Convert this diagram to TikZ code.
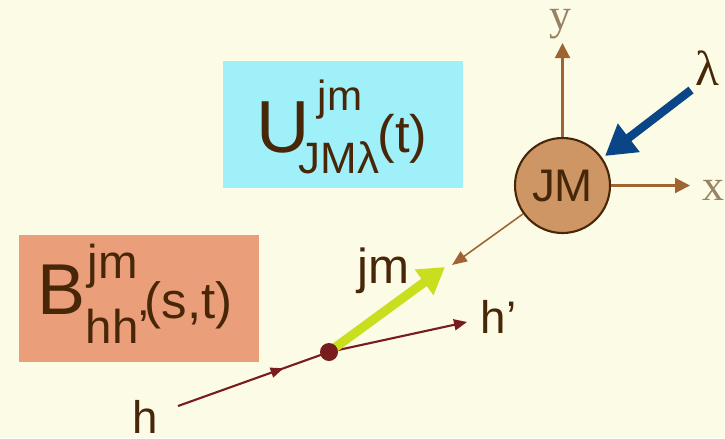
\documentclass[tikz,border=0pt]{standalone}
\usepackage{fontspec}
\setmainfont{Liberation Sans}
\newfontfamily\axisfont{Liberation Serif}
\usetikzlibrary{arrows.meta,decorations.markings}
\definecolor{bgcream}{RGB}{252,252,230}
\definecolor{boxcyan}{RGB}{160,240,250}
\definecolor{boxsalmon}{RGB}{235,158,122}
\definecolor{jmtan}{RGB}{206,150,100}
\definecolor{txtbrown}{RGB}{72,38,8}
\definecolor{axbrown}{RGB}{160,100,50}
\definecolor{lblgray}{RGB}{150,130,100}
\definecolor{lamblue}{RGB}{10,70,135}
\definecolor{glgreen}{RGB}{200,222,30}
\definecolor{hred}{RGB}{120,28,30}
\tikzset{
  txt/.style={inner sep=0pt,anchor=base west,text=txtbrown},
  axlbl/.style={inner sep=0pt,anchor=base,text=lblgray,font=\axisfont\fontsize{12.5}{14}\selectfont},
  axline/.style={axbrown,line width=0.6pt,-{Triangle[length=1.5mm,width=1.5mm]}},
  hline/.style={hred,line width=0.6pt},
  hmid/.style={postaction={decorate},decoration={markings,mark=at position 0.7 with {\arrow{Triangle[length=1.3mm,width=1mm]}}}}
}
\begin{document}
\begin{tikzpicture}
    % fondo
    \fill[bgcream] (0,0) rectangle (7.25,4.38);
    \useasboundingbox (0,0) rectangle (7.25,4.38);
    % riquadri
    \fill[boxcyan] (2.23,3.77) rectangle (4.63,2.50);
    \fill[boxsalmon] (0.19,2.03) rectangle (2.59,0.76);
    % formula U
    \node (Ubig) [txt,font=\fontsize{21}{25}\selectfont] at (2.56,2.86) {U};
    \node (Usup) [txt,font=\fontsize{12}{14}\selectfont] at (3.17,3.28) {jm};
    \node (Usub) [txt,font=\fontsize{12.5}{14}\selectfont] at (2.98,2.65) {JMλ};
    \node (Uarg) [txt,font=\fontsize{15}{18}\selectfont] at (3.77,2.86) {(t)};
    % formula B
    \node (Bbig) [txt,font=\fontsize{20.5}{24}\selectfont] at (0.37,1.24) {B};
    \node (Bsup) [txt,font=\fontsize{13.5}{16}\selectfont] at (0.87,1.60) {jm};
    \node (Bsub) [txt,font=\fontsize{13.5}{16}\selectfont] at (0.85,0.95) {hh’};
    \node (Barg) [txt,font=\fontsize{14.5}{17}\selectfont] at (1.44,1.20) {(s,t)};
    % JM e assi
    \node (jmc) [circle,draw=txtbrown,line width=0.6pt,fill=jmtan,minimum size=0.95cm,inner sep=0pt,
        text=txtbrown,font=\fontsize{13}{15}\selectfont] at (5.625,2.525) {JM};
    \coordinate (ytip) at (5.625,3.95);
    \coordinate (xtip) at (6.90,2.525);
    \draw[axline] (jmc.north) -- (ytip);
    \draw[axline] (jmc.east) -- (xtip);
    \node (ylbl) [axlbl] at (5.60,4.09) {y};
    \node (xlbl) [axlbl] at (7.13,2.38) {x};
    % lambda
    \coordinate (lamstart) at (6.91,3.48);
    \coordinate (lamtip) at (6.05,2.82);
    \draw[lamblue,line width=2.4pt,-{Triangle[length=3mm,width=3.4mm]}] (lamstart) -- (lamtip);
    \node (lamlbl) [inner sep=0pt,anchor=base,text=txtbrown,font=\axisfont\fontsize{14}{16}\selectfont] at (7.07,3.53) {λ};
    % jm verso il vertice
    \coordinate (jmtip) at (4.52,1.73);
    \draw[axbrown,line width=0.45pt,-{Triangle[length=1.5mm,width=1.2mm]}] (jmc) -- (jmtip);
    % linee h, h'
    \coordinate (hstart) at (1.78,0.32);
    \coordinate (vtx) at (3.29,0.86);
    \coordinate (hptip) at (4.67,1.16);
    \coordinate (gtip) at (4.45,1.71);
    \draw[hline,hmid] (hstart) -- (vtx);
    \draw[hline,-{Triangle[length=1.3mm,width=1.1mm]}] (vtx) -- (hptip);
    \draw[glgreen,line width=2.6pt,-{Triangle[length=2.6mm,width=3mm]}] (vtx) -- (gtip);
    \fill[hred] (vtx) circle (0.09);
    % etichette
    \node (jmlbl) [txt,font=\fontsize{14}{16}\selectfont] at (3.57,1.55) {jm};
    \node (hlbl) [txt,font=\fontsize{13}{15}\selectfont] at (1.32,0.05) {h};
    \node (hplbl) [txt,font=\fontsize{13}{15}\selectfont] at (4.80,1.05) {h’};
\end{tikzpicture}
\end{document}
